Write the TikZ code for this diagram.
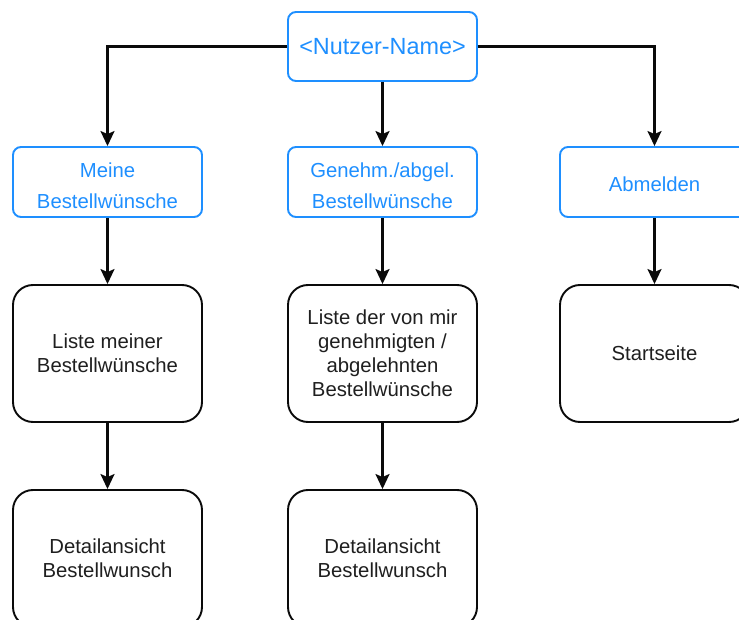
\documentclass[tikz,border=0pt]{standalone}
\usepackage{fontspec}
\setmainfont{Liberation Sans}
\usetikzlibrary{arrows.meta}
\definecolor{menublue}{HTML}{1E8FFF}
\definecolor{linegray}{HTML}{0A0A0A}
\newcommand{\downstrut}[1]{\rule{0pt}{#1}}
\tikzset{
  menubox/.style={draw=menublue, line width=1.9pt, rounded corners=8pt, text=menublue,
    minimum width=189pt, minimum height=70pt, inner sep=0pt, align=center,
    font=\fontsize{20.3}{31}\selectfont},
  pagebox/.style={draw=linegray, line width=1.9pt, rounded corners=20pt, text=black!88,
    minimum width=189pt, minimum height=137pt, inner sep=0pt, align=center,
    font=\fontsize{20.3}{24}\selectfont},
  conn/.style={draw=linegray, line width=2.1pt, -{Stealth[length=15pt,width=14pt,inset=3pt]}}
}
\begin{document}
\begin{tikzpicture}[x=1pt,y=-1pt]
\useasboundingbox (0,0) rectangle (739,620);
\clip (0,0) rectangle (739,620);
\fill[white] (0,0) rectangle (739,620);
\node[menubox, minimum height=69pt, font=\fontsize{23.4}{26}\selectfont] (user) at (382.5,46.5) {<Nutzer-Name>};
\node[menubox] (meine) at (107.5,182) {\downstrut{23pt}Meine\\Bestellwünsche};
\node[menubox] (genehm) at (382.5,182) {\downstrut{23pt}Genehm./abgel.\\Bestellwünsche};
\node[menubox] (abmelden) at (654.5,182) {\downstrut{20pt}Abmelden};
\node[pagebox] (liste) at (107.5,353.5) {Liste meiner\\Bestellwünsche};
\node[pagebox] (listeb) at (382.5,353.5) {Liste der von mir\\genehmigten /\\abgelehnten\\Bestellwünsche};
\node[pagebox] (start) at (654.5,353.5) {Startseite};
\node[pagebox] (detaila) at (107.5,558.5) {Detailansicht\\Bestellwunsch};
\node[pagebox] (detailb) at (382.5,558.5) {Detailansicht\\Bestellwunsch};
\draw[conn] (user.west) -| (meine.north);
\draw[conn] (user.east) -| (abmelden.north);
\draw[conn] (user.south) -- (genehm.north);
\draw[conn] (meine.south) -- (liste.north);
\draw[conn] (genehm.south) -- (listeb.north);
\draw[conn] (abmelden.south) -- (start.north);
\draw[conn] (liste.south) -- (detaila.north);
\draw[conn] (listeb.south) -- (detailb.north);
\end{tikzpicture}
\end{document}
